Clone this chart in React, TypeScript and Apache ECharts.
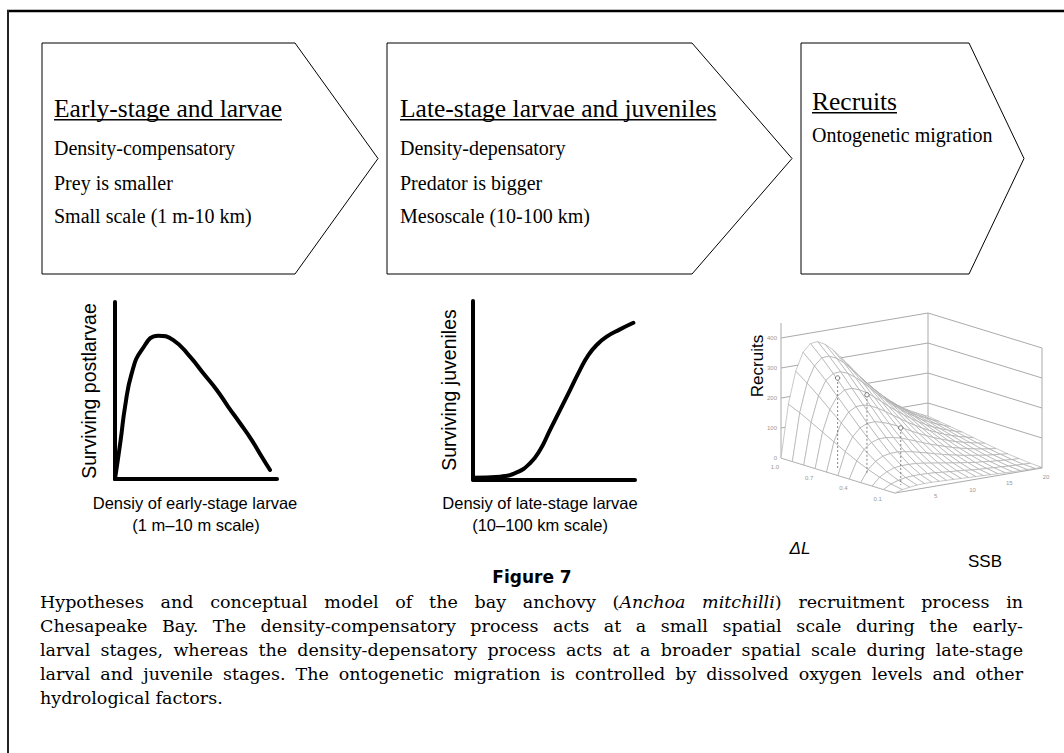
import React, { useEffect, useRef } from "react";
import * as echarts from "echarts";

// ---------- Panel 1: early-stage larvae (density-compensatory) ----------
const earlyStageDensity = [0, 0.35, 0.62, 1.03, 1.65, 2.67, 3.6, 4.63, 5.45, 6.28, 6.99, 7.72, 8.44, 9.06, 9.57];
const survivingPostlarvae = [0, 2.2, 4.08, 5.97, 7.29, 8.1, 7.85, 6.91, 5.97, 5.03, 4.08, 3.15, 2.2, 1.26, 0.51];

// ---------- Panel 2: late-stage larvae (density-depensatory) ----------
const lateStageDensity = [0, 1.67, 2.7, 3.52, 4.14, 4.75, 5.37, 5.99, 6.6, 7.12, 7.64, 8.25, 9.07, 9.9];
const survivingJuveniles = [0.1, 0.16, 0.4, 0.91, 1.65, 2.77, 3.89, 5.01, 6.13, 6.97, 7.54, 8.0, 8.41, 8.78];

// ---------- Panel 3: recruitment surface ----------
const ssbValues = [0, 1, 2, 3, 4, 5, 6, 7, 8, 9, 10, 11, 12, 13, 14, 15, 16, 17, 18, 19, 20];
const deltaLValues = [0, 0.1, 0.2, 0.3, 0.4, 0.5, 0.6, 0.7, 0.8, 0.9, 1.0];
const recruitsAtDL00 = [0, 7, 11, 14, 15, 15, 14, 13, 12, 11, 10, 9, 8, 7, 6, 5, 4, 4, 3, 3, 2];
const recruitsAtDL01 = [0, 14, 22, 27, 29, 29, 28, 27, 24, 22, 20, 18, 15, 13, 12, 10, 9, 7, 6, 5, 4];
const recruitsAtDL02 = [0, 25, 39, 48, 51, 51, 50, 47, 43, 39, 35, 31, 27, 24, 20, 18, 15, 13, 11, 9, 8];
const recruitsAtDL03 = [0, 39, 62, 75, 80, 81, 78, 73, 67, 61, 54, 48, 42, 37, 32, 28, 24, 20, 17, 15, 12];
const recruitsAtDL04 = [0, 56, 90, 109, 117, 117, 113, 107, 98, 89, 79, 70, 62, 54, 47, 40, 35, 29, 25, 21, 18];
const recruitsAtDL05 = [0, 75, 121, 146, 157, 158, 152, 143, 132, 119, 106, 94, 83, 72, 63, 54, 46, 40, 34, 29, 24];
const recruitsAtDL06 = [0, 96, 155, 187, 201, 202, 195, 183, 168, 152, 136, 120, 106, 92, 80, 69, 59, 51, 43, 37, 31];
const recruitsAtDL07 = [0, 117, 188, 228, 245, 246, 237, 223, 205, 186, 165, 147, 129, 113, 98, 84, 72, 62, 53, 45, 38];
const recruitsAtDL08 = [0, 138, 222, 269, 288, 290, 280, 263, 242, 219, 195, 173, 152, 133, 115, 100, 85, 73, 62, 53, 44];
const recruitsAtDL09 = [0, 158, 253, 306, 329, 330, 319, 300, 275, 249, 222, 197, 174, 151, 131, 113, 97, 83, 71, 60, 50];
const recruitsAtDL10 = [0, 175, 281, 340, 365, 367, 354, 333, 306, 277, 247, 219, 193, 168, 146, 126, 108, 92, 79, 67, 56];
const recruitsSurface = [
  recruitsAtDL00, recruitsAtDL01, recruitsAtDL02, recruitsAtDL03, recruitsAtDL04, recruitsAtDL05,
  recruitsAtDL06, recruitsAtDL07, recruitsAtDL08, recruitsAtDL09, recruitsAtDL10,
];
const recruitTicks = [0, 100, 200, 300, 400];
const recruitAxisTop = 450;
const ssbTicks = [5, 10, 15, 20];
const deltaLTicks = [0.1, 0.4, 0.7, 1.0];
const obsSSB = [1.5, 2.7, 2.8];
const obsDeltaL = [0.6, 0.42, 0.13];
const obsRecruits = [307, 267, 190];

// ---------- Texts ----------
const stageTitles = ["Early-stage and larvae", "Late-stage larvae and juveniles", "Recruits"];
const stageNotes = [
  ["Density-compensatory", "Prey is smaller", "Small scale (1 m-10 km)"],
  ["Density-depensatory", "Predator is bigger", "Mesoscale (10-100 km)"],
  ["Ontogenetic migration"],
];
const captionLines = [
  "Hypotheses and conceptual model of the bay anchovy (*Anchoa* *mitchilli*) recruitment process in",
  "Chesapeake Bay. The density-compensatory process acts at a small spatial scale during the early-",
  "larval stages, whereas the density-depensatory process acts at a broader spatial scale during late-stage",
  "larval and juvenile stages. The ontogenetic migration is controlled by dissolved oxygen levels and other",
  "hydrological factors.",
];

// oblique projection of (SSB, ΔL, Recruits) onto the 3-D panel's flat axes
const SSB_MAX = 20;
const DL_MAX = 1;
const project = (s: number, dl: number, r: number): number[] => [
  (147 * s) / SSB_MAX - (114 * dl) / DL_MAX,
  (25 * s) / SSB_MAX + (35 * dl) / DL_MAX + 0.3 * r,
];

const SERIF = "Liberation Serif";
const CAP_FONT = "DejaVu Serif";
const SANS = "Liberation Sans";

let ctx: CanvasRenderingContext2D | null = null;
function measure(text: string, font: string): number {
  if (!ctx) ctx = document.createElement("canvas").getContext("2d");
  ctx!.font = font;
  return ctx!.measureText(text).width;
}

function buildCaption(x0: number, x1: number, y0: number, dy: number, size: number) {
  const els: any[] = [];
  const font = (it: boolean) => `${it ? "italic " : ""}${size}px "${CAP_FONT}"`;
  captionLines.forEach((line, li) => {
    const words = line.split(" ").map((w) =>
      w
        .split("*")
        .map((t, k) => ({ t, it: k % 2 === 1 }))
        .filter((s) => s.t.length > 0)
    );
    const widths = words.map((segs) => segs.reduce((a, s) => a + measure(s.t, font(s.it)), 0));
    const total = widths.reduce((a, b) => a + b, 0);
    const last = li === captionLines.length - 1;
    const gap = last ? measure(" ", font(false)) : (x1 - x0 - total) / (words.length - 1);
    let x = x0;
    const y = y0 + li * dy;
    words.forEach((segs, wi) => {
      let sx = x;
      segs.forEach((s) => {
        els.push({
          type: "text",
          x: sx,
          y,
          style: {
            text: s.t,
            fontFamily: CAP_FONT,
            fontSize: size,
            fontStyle: s.it ? "italic" : "normal",
            fill: "#000",
            align: "left",
            verticalAlign: "middle",
          },
        });
        sx += measure(s.t, font(s.it));
      });
      x += widths[wi] + gap;
    });
  });
  return els;
}

function txt(x: number, y: number, text: string, o: any = {}) {
  return {
    type: "text",
    x,
    y,
    rotation: o.rotation || 0,
    style: {
      text,
      fontFamily: o.family || SANS,
      fontSize: o.size || 16,
      fontStyle: o.italic ? "italic" : "normal",
      fontWeight: o.bold ? "bold" : "normal",
      fill: o.fill || "#000",
      align: o.align || "center",
      verticalAlign: "middle",
    },
  };
}

function buildGraphic() {
  const els: any[] = [];
  // frame
  els.push({ type: "line", shape: { x1: 7, y1: 11, x2: 1064, y2: 11 }, style: { stroke: "#000", lineWidth: 2.4 } });
  els.push({ type: "line", shape: { x1: 8, y1: 10, x2: 8, y2: 753 }, style: { stroke: "#222", lineWidth: 2 } });

  // stage arrows
  const boxes = [
    [42, 295, 378],
    [387, 692, 792],
    [801, 969, 1024],
  ];
  const top = 43,
    bottom = 274,
    mid = 158.5;
  boxes.forEach(([l, r, tip]) => {
    els.push({
      type: "polygon",
      shape: { points: [[l, top], [r, top], [tip, mid], [r, bottom], [l, bottom]] },
      style: { fill: "none", stroke: "#000", lineWidth: 1 },
    });
  });
  const textX = [54, 400, 812];
  const titleBase = [117.5, 117.5, 110.5];
  const noteBase = [
    [155, 189.5, 223.2],
    [155, 189.5, 223.2],
    [141.5],
  ];
  const TS = 25.5;
  const NS = 20;
  stageTitles.forEach((t, i) => {
    els.push(txt(textX[i], titleBase[i] - 0.3375 * TS, t, { family: SERIF, size: TS, align: "left" }));
    const w = measure(t, `${TS}px "${SERIF}"`);
    els.push({
      type: "line",
      shape: { x1: textX[i], y1: titleBase[i] + 2.3, x2: textX[i] + w, y2: titleBase[i] + 2.3 },
      style: { stroke: "#000", lineWidth: 1.6 },
    });
    stageNotes[i].forEach((n, k) => {
      els.push(txt(textX[i], noteBase[i][k] - 0.3375 * NS, n, { family: SERIF, size: NS, align: "left" }));
    });
  });

  // panel labels
  els.push(txt(89, 391, "Surviving postlarvae", { size: 19.5, rotation: Math.PI / 2 }));
  els.push(txt(448.5, 390, "Surviving juveniles", { size: 19.5, rotation: Math.PI / 2 }));
  els.push(txt(195, 503, "Densiy of early-stage larvae", { size: 16.5 }));
  els.push(txt(196, 525, "(1 m\u201310 m scale)", { size: 16.5 }));
  els.push(txt(540, 503, "Densiy of late-stage larvae", { size: 16.5 }));
  els.push(txt(540, 525, "(10\u2013100 km scale)", { size: 16.5 }));
  els.push(txt(757, 366, "Recruits", { size: 17, rotation: Math.PI / 2 }));
  els.push(txt(800, 548, "\u0394L", { size: 17, italic: true }));
  els.push(txt(985, 561, "SSB", { size: 17 }));

  // caption
  els.push(txt(532, 577, "Figure 7", { family: "DejaVu Sans", size: 17, bold: true }));
  buildCaption(40, 1023, 602, 24, 17.5).forEach((e) => els.push(e));
  return els;
}

export default function App() {
  const ref = useRef<HTMLDivElement>(null);
  useEffect(() => {
    document.body.style.margin = "0";
    const chart = echarts.init(ref.current!, null, { renderer: "svg" });

    const cells: number[][] = [];
    for (let j = 0; j < deltaLValues.length - 1; j++) {
      for (let i = 0; i < ssbValues.length - 1; i++) cells.push([i, j]);
    }
    const depth = (c: number[]) =>
      project((ssbValues[c[0]] + ssbValues[c[0] + 1]) / 2, (deltaLValues[c[1]] + deltaLValues[c[1] + 1]) / 2, 0)[1];
    cells.sort((a, b) => depth(b) - depth(a));

    const obs = obsSSB.map((s, k) => [s, obsDeltaL[k], obsRecruits[k]]);

    const axisStyle = {
      type: "value" as const,
      min: 0,
      max: 10,
      axisLine: { show: true, onZero: false, lineStyle: { color: "#000", width: 4 } },
      axisTick: { show: false },
      axisLabel: { show: false },
      splitLine: { show: false },
    };

    chart.setOption({
      animation: false,
      backgroundColor: "#fff",
      grid: [
        { left: 115, top: 302, width: 162, height: 177 },
        { left: 473, top: 301, width: 162, height: 178.5 },
        { left: 781, top: 313, width: 261, height: 180 },
      ],
      xAxis: [
        { ...axisStyle, gridIndex: 0 },
        { ...axisStyle, gridIndex: 1 },
        { type: "value", gridIndex: 2, min: -114, max: 147, show: false },
      ],
      yAxis: [
        { ...axisStyle, gridIndex: 0 },
        { ...axisStyle, gridIndex: 1 },
        { type: "value", gridIndex: 2, min: 0, max: 180, show: false },
      ],
      series: [
        {
          type: "line",
          xAxisIndex: 0,
          yAxisIndex: 0,
          data: earlyStageDensity.map((x, i) => [x, survivingPostlarvae[i]]),
          smooth: 0.5,
          showSymbol: false,
          lineStyle: { color: "#000", width: 4, cap: "round", join: "round" },
          silent: true,
        },
        {
          type: "line",
          xAxisIndex: 1,
          yAxisIndex: 1,
          data: lateStageDensity.map((x, i) => [x, survivingJuveniles[i]]),
          smooth: 0.5,
          showSymbol: false,
          lineStyle: { color: "#000", width: 4, cap: "round", join: "round" },
          silent: true,
        },
        {
          type: "custom",
          xAxisIndex: 2,
          yAxisIndex: 2,
          z: 1,
          silent: true,
          data: [[0, 0]],
          renderItem: (_p: any, api: any) => {
            const P = (s: number, dl: number, r: number) => api.coord(project(s, dl, r));
            const ch: any[] = [];
            const ln = (a: number[], b: number[], stroke = "#aaa", w = 1) =>
              ch.push({ type: "line", shape: { x1: a[0], y1: a[1], x2: b[0], y2: b[1] }, style: { stroke, lineWidth: w } });
            recruitTicks.forEach((r) => {
              ln(P(0, DL_MAX, r), P(SSB_MAX, DL_MAX, r));
              ln(P(SSB_MAX, DL_MAX, r), P(SSB_MAX, 0, r));
              const q = P(0, DL_MAX, r);
              ch.push({ type: "text", x: q[0] - 4, y: q[1], style: { text: String(r), fontSize: 6, fill: "#999", align: "right", verticalAlign: "middle", fontFamily: SANS } });
            });
            ln(P(0, DL_MAX, 0), P(0, DL_MAX, recruitAxisTop));
            ln(P(SSB_MAX, DL_MAX, 0), P(SSB_MAX, DL_MAX, recruitTicks[recruitTicks.length - 1]));
            ln(P(SSB_MAX, 0, 0), P(SSB_MAX, 0, recruitTicks[recruitTicks.length - 1]));
            ln(P(0, 0, 0), P(0, DL_MAX, 0));
            ln(P(0, 0, 0), P(SSB_MAX, 0, 0));
            ssbTicks.forEach((s) => {
              const q = P(s, 0, 0);
              ch.push({ type: "text", x: q[0] + 4, y: q[1] + 9, style: { text: String(s), fontSize: 6, fill: "#999", align: "center", verticalAlign: "middle", fontFamily: SANS } });
            });
            deltaLTicks.forEach((d) => {
              const q = P(0, d, 0);
              ch.push({ type: "text", x: q[0] - 6, y: q[1] + 9, style: { text: d.toFixed(1), fontSize: 6, fill: "#999", align: "center", verticalAlign: "middle", fontFamily: SANS } });
            });
            return { type: "group", children: ch };
          },
        },
        {
          type: "custom",
          xAxisIndex: 2,
          yAxisIndex: 2,
          z: 2,
          silent: true,
          data: cells,
          renderItem: (_p: any, api: any) => {
            const i = api.value(0);
            const j = api.value(1);
            const pts = [
              [i, j],
              [i + 1, j],
              [i + 1, j + 1],
              [i, j + 1],
            ].map(([a, b]) => api.coord(project(ssbValues[a], deltaLValues[b], recruitsSurface[b][a])));
            return {
              type: "polygon",
              shape: { points: pts },
              style: { fill: "#fff", stroke: "#a4a4a4", lineWidth: 0.6 },
            };
          },
        },
        {
          type: "custom",
          xAxisIndex: 2,
          yAxisIndex: 2,
          z: 3,
          silent: true,
          data: obs,
          renderItem: (_p: any, api: any) => {
            const s = api.value(0);
            const d = api.value(1);
            const r = api.value(2);
            const a = api.coord(project(s, d, r));
            const b = api.coord(project(s, d, 0));
            return {
              type: "group",
              children: [
                { type: "line", shape: { x1: a[0], y1: a[1], x2: b[0], y2: b[1] }, style: { stroke: "#666", lineWidth: 0.8, lineDash: [2, 2] } },
                { type: "circle", shape: { cx: a[0], cy: a[1], r: 2.2 }, style: { fill: "#fff", stroke: "#555", lineWidth: 0.8 } },
              ],
            };
          },
        },
      ],
      graphic: { elements: buildGraphic() },
    });
    return () => chart.dispose();
  }, []);
  return (
    <div
      ref={ref}
      style={{ position: "fixed", left: 0, top: 0, width: 1064, height: 753, background: "#fff" }}
    />
  );
}
